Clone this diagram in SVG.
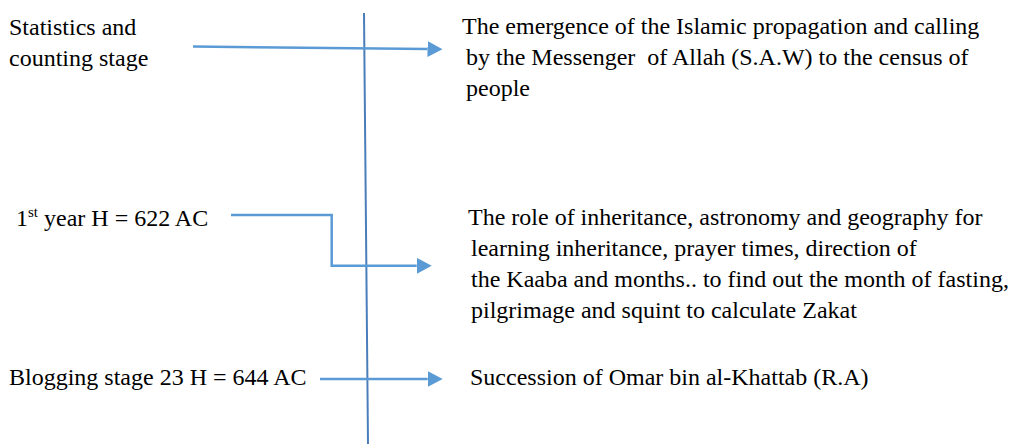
<svg xmlns="http://www.w3.org/2000/svg" width="1011" height="446" viewBox="0 0 1011 446">
<style>
  text { font-family: "Liberation Serif", "Times New Roman", serif; font-size: 24px; fill: #000; white-space: pre; }
  .conn { fill: none; stroke: #5B9BD5; stroke-width: 2.5; }
  .axis { fill: none; stroke: #4A7EBB; stroke-width: 2; }
  .sup { font-size: 15px; }
</style>
<defs>
  <marker id="arr" markerUnits="userSpaceOnUse" markerWidth="16" markerHeight="17" refX="0" refY="8" orient="auto">
    <path d="M0,0 L15,8 L0,16 Z" fill="#5B9BD5"/>
  </marker>
</defs>
<rect width="1011" height="446" fill="#fff"/>
<g id="connectors">
  <line class="axis" x1="364" y1="13" x2="368" y2="444"/>
  <path class="conn" d="M193,46.5 L427.5,49.1" marker-end="url(#arr)"/>
  <path class="conn" d="M231,215 L331.7,215 L331.7,265.8 L416.7,265.8" marker-end="url(#arr)"/>
  <path class="conn" d="M320,379 L427.7,379" marker-end="url(#arr)"/>
</g>
<g id="node-stats">
  <text x="9" y="35">Statistics and</text>
  <text x="9" y="66">counting stage</text>
</g>
<g id="node-emergence">
  <text x="462" y="34">The emergence of the Islamic propagation and calling</text>
  <text x="466" y="65" xml:space="preserve">by the Messenger  of Allah (S.A.W) to the census of</text>
  <text x="466" y="96">people</text>
</g>
<g id="node-first-year">
  <text x="16" y="226">1<tspan class="sup" dy="-9">st</tspan><tspan dy="9"> year H = 622 AC</tspan></text>
</g>
<g id="node-role">
  <text x="468" y="225">The role of inheritance, astronomy and geography for</text>
  <text x="471" y="256">learning inheritance, prayer times, direction of</text>
  <text x="471" y="287">the Kaaba and months.. to find out the month of fasting,</text>
  <text x="471" y="318">pilgrimage and squint to calculate Zakat</text>
</g>
<g id="node-blogging">
  <text x="9" y="385">Blogging stage 23 H = 644 AC</text>
</g>
<g id="node-succession">
  <text x="470" y="385">Succession of Omar bin al-Khattab (R.A)</text>
</g>
</svg>
